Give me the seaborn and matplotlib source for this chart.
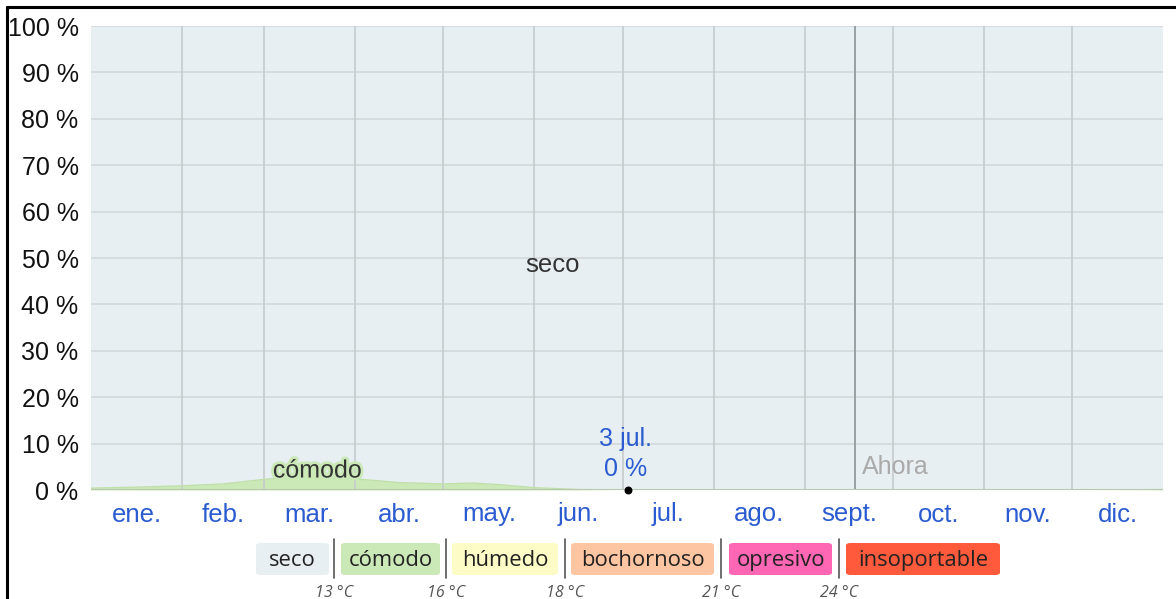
import numpy as np
import pandas as pd
import matplotlib
matplotlib.use("Agg")
import matplotlib.pyplot as plt
import matplotlib.patheffects as pe
from matplotlib.patches import FancyBboxPatch
from matplotlib.lines import Line2D
import seaborn as sns

# ---- data ----
day_of_year = [0, 15, 31, 45, 59, 70, 90, 105, 120, 130, 140, 151, 166, 181, 212, 243, 273, 304, 334, 355, 365]
comodo_pct = [0.4, 0.6, 0.9, 1.3, 2.3, 2.8, 2.4, 1.6, 1.3, 1.5, 1.1, 0.5, 0.1, 0.0, 0.0, 0.0, 0.0, 0.0, 0.0, 0.05, 0.1]
month_labels = ["ene.", "feb.", "mar.", "abr.", "may.", "jun.", "jul.", "ago.", "sept.", "oct.", "nov.", "dic."]
month_starts = [0, 31, 59, 90, 120, 151, 181, 212, 243, 273, 304, 334, 365]
y_ticks = [0, 10, 20, 30, 40, 50, 60, 70, 80, 90, 100]
legend_cats = ["seco", "cómodo", "húmedo", "bochornoso", "opresivo", "insoportable"]
legend_colors = ["#e8eff2", "#cbe8b7", "#fdfbc6", "#fec5a2", "#ff66b3", "#ff5a3c"]
legend_temps = ["13 °C", "16 °C", "18 °C", "21 °C", "24 °C"]
highlight_day = 183
highlight_label = "3 jul."
highlight_value = 0
now_day = 260

sns.set_style("white")
plt.rcParams["font.family"] = ["Liberation Sans", "DejaVu Sans"]

W, H = 1176, 599
fig = plt.figure(figsize=(W / 100, H / 100), dpi=100)
ax = fig.add_axes([91 / W, 1 - 490 / H, (1163 - 91) / W, (490 - 26) / H])

df = pd.DataFrame({"day": day_of_year, "pct": comodo_pct})
ax.fill_between(df["day"], 0, 100, color="#e8eff2", zorder=0, lw=0)
ax.fill_between(df["day"], 0, df["pct"], color="#cbe8b7", zorder=1, lw=0)
sns.lineplot(data=df, x="day", y="pct", ax=ax, color="#bfe0a8", lw=1.0, zorder=2)

ax.set_xlim(0, 365)
ax.set_ylim(0, 100)

for y in y_ticks[1:]:
    ax.axhline(y, color="#d3d8da", lw=1.2, zorder=1.5)
for m in month_starts[1:-1]:
    ax.axvline(m, color="#c6cbcd", lw=1.2, zorder=1.5)
ax.axvline(now_day, color="#9a9fa1", lw=1.4, zorder=1.6)
ax.axhline(0, color="#b8c9b0", lw=1.5, zorder=2)

ax.set_yticks(y_ticks)
ax.set_yticklabels([f"{v} %" for v in y_ticks], fontsize=18, color="#111111")
mids = [(month_starts[i] + month_starts[i + 1]) / 2 for i in range(12)]
ax.set_xticks(mids)
ax.set_xticklabels(month_labels, fontsize=18.5, color="#2a5bd0")
ax.tick_params(axis="x", length=0, pad=9)
ax.tick_params(axis="y", length=0, pad=9)
for s in ax.spines.values():
    s.set_visible(False)
ax.set_xlabel("")
ax.set_ylabel("")

ax.text(157, 48.5, "seco", fontsize=18.5, color="#333333", ha="center", va="center", zorder=5)
ax.text(77, 4.2, "cómodo", fontsize=18, color="#333333", ha="center", va="center", zorder=5,
        path_effects=[pe.withStroke(linewidth=4, foreground="#cbe8b7")])
ax.text(highlight_day - 1, 11.0, highlight_label, fontsize=18, color="#2a5bd0", ha="center", va="center", zorder=5)
ax.text(highlight_day - 1, 4.5, f"{highlight_value} %", fontsize=18, color="#2a5bd0", ha="center", va="center", zorder=5)
ax.scatter([highlight_day], [highlight_value], s=22, color="black", zorder=6, clip_on=False)
ax.text(now_day + 2.5, 5, "Ahora", fontsize=18, color="#aaaaaa", ha="left", va="center", zorder=5)

# figure border
fig.add_artist(Line2D([7 / W, 7 / W], [0, 1 - 7 / H], color="black", lw=2.2))
fig.add_artist(Line2D([7 / W, 1], [1 - 7 / H, 1 - 7 / H], color="black", lw=2.2))

# legend boxes
boxes = [(256, 329), (341, 440), (452, 558), (571, 714), (729, 832), (846, 1000)]
seps = [334, 446, 565, 721, 839]
by0, by1 = 543, 575
for (x0, x1), lab, col in zip(boxes, legend_cats, legend_colors):
    p = FancyBboxPatch((x0 / W, 1 - by1 / H), (x1 - x0) / W, (by1 - by0) / H,
                       boxstyle="round,pad=0,rounding_size=0.004", transform=fig.transFigure,
                       facecolor=col, edgecolor="none")
    fig.add_artist(p)
    fig.text((x0 + x1) / 2 / W, 1 - (by0 + by1 + 3) / 2 / H, lab, fontsize=15.8, color="#222222",
             ha="center", va="center", family=["Open Sans", "DejaVu Sans"], stretch="normal")
for xs, t in zip(seps, legend_temps):
    fig.add_artist(Line2D([xs / W, xs / W], [1 - 539 / H, 1 - 578 / H], color="#555555", lw=1.2))
    fig.text(xs / W, 1 - 593 / H, t, fontsize=11.5, color="#555555", style="italic",
             ha="center", va="center", family=["Open Sans", "DejaVu Sans"])

fig.savefig("out.png", dpi=100, facecolor="white")
